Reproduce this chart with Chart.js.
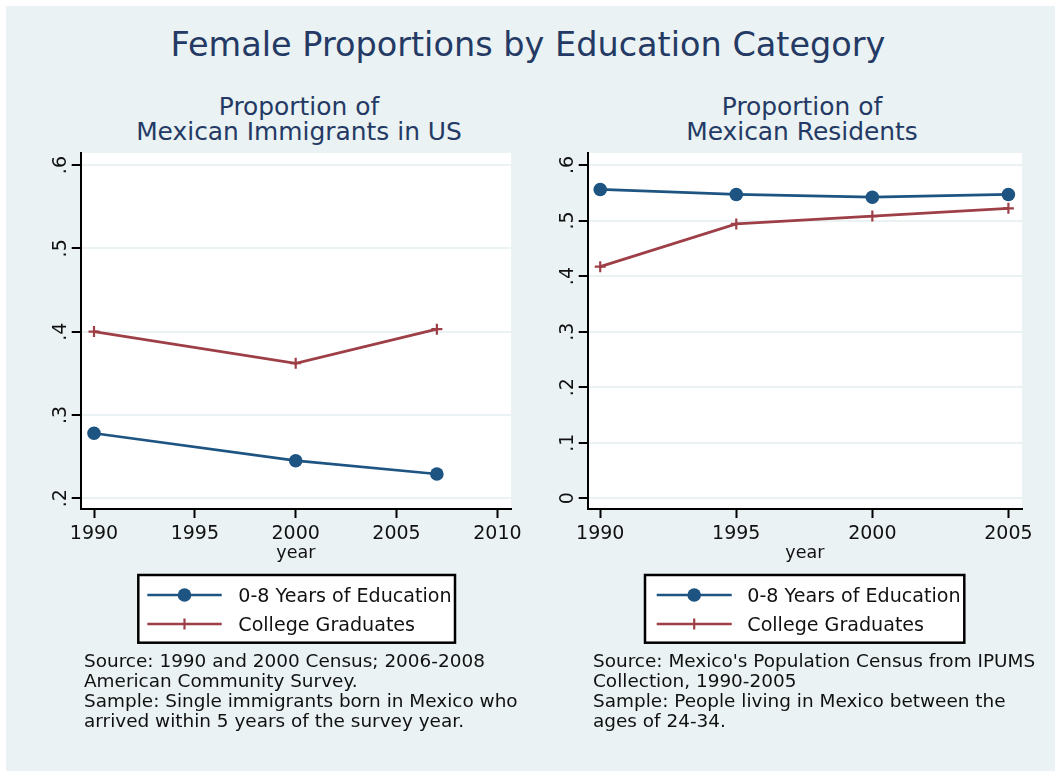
<!DOCTYPE html>
<html>
<head>
<meta charset="utf-8">
<script src="https://cdn.jsdelivr.net/npm/chart.js@4"></script>
<style>
  body { margin: 0; overflow: hidden; background: #fff; }
  #page { position: relative; width: 1055px; height: 771px; background: #fff; font-family: 'DejaVu Sans', sans-serif; }
  #bg { position: absolute; left: 6px; top: 6px; right: 0; bottom: 0; background: #eaf2f3; }
  .title { position: absolute; left: 0; width: 1056px; top: 28px; text-align: center; font-size: 33.5px; line-height: 1; color: #243a64; white-space: nowrap; }
  .sub { position: absolute; top: 93.5px; text-align: center; font-size: 24.9px; line-height: 25.7px; color: #243a64; white-space: nowrap; }
  .note { position: absolute; top: 650.5px; font-size: 18.45px; line-height: 20px; color: #111; white-space: nowrap; }
  canvas { position: absolute; }
</style>
</head>
<body>
<div id="page">
  <div id="bg"></div>
  <div class="title">Female Proportions by Education Category</div>
  <div class="sub" style="left:97px;width:404px">Proportion of<br>Mexican Immigrants in US</div>
  <div class="sub" style="left:600px;width:404px">Proportion of<br>Mexican Residents</div>
  <canvas id="usChart" width="527" height="520" style="left:0;top:140px"></canvas>
  <canvas id="mxChart" width="528" height="520" style="left:527px;top:140px"></canvas>
  <div class="note" style="left:84px">Source: 1990 and 2000 Census; 2006-2008<br>American Community Survey.<br>Sample: Single immigrants born in Mexico who<br>arrived within 5 years of the survey year.</div>
  <div class="note" style="left:593px">Source: Mexico's Population Census from IPUMS<br>Collection, 1990-2005<br>Sample: People living in Mexico between the<br>ages of 24-34.</div>
</div>
<script>
// values
const seriesLabels = ['0-8 Years of Education', 'College Graduates'];

const usYears = [1990, 2000, 2007];
const usLowEdu = [0.278, 0.245, 0.229];
const usCollege = [0.400, 0.362, 0.403];
const usXTicks = [1990, 1995, 2000, 2005, 2010];
const usYTicks = [0.2, 0.3, 0.4, 0.5, 0.6];

const mxYears = [1990, 1995, 2000, 2005];
const mxLowEdu = [0.556, 0.547, 0.542, 0.547];
const mxCollege = [0.417, 0.494, 0.508, 0.522];
const mxXTicks = [1990, 1995, 2000, 2005];
const mxYTicks = [0, 0.1, 0.2, 0.3, 0.4, 0.5, 0.6];

const NAVY = '#1d5482';
const MAROON = '#9e3f47';

Chart.defaults.font.family = "'DejaVu Sans', sans-serif";
Chart.defaults.color = '#111';

const fmtY = (v) => v === 0 ? '0' : Number(v).toFixed(1).replace(/^0/, '');
const toPoints = (xs, ys) => xs.map((x, i) => ({x: x, y: ys[i]}));

const plotBg = {
  id: 'plotBg',
  beforeDraw(chart) {
    const a = chart.chartArea;
    chart.ctx.save();
    chart.ctx.fillStyle = '#fff';
    chart.ctx.fillRect(a.left, a.top, a.right - a.left, a.bottom - a.top);
    chart.ctx.restore();
  }
};

// stata style vertical y labels
const yLabels = {
  id: 'yLabels',
  afterDraw(chart) {
    const s = chart.scales.y;
    const ctx = chart.ctx;
    ctx.save();
    ctx.fillStyle = '#111';
    ctx.font = "19px 'DejaVu Sans'";
    ctx.textAlign = 'center';
    ctx.textBaseline = 'alphabetic';
    s.ticks.forEach((t) => {
      ctx.save();
      ctx.translate(chart.chartArea.left - 15, s.getPixelForValue(t.value));
      ctx.rotate(-Math.PI / 2);
      ctx.fillText(fmtY(t.value), 0, 0);
      ctx.restore();
    });
    ctx.restore();
  }
};

const legendBox = {
  id: 'legendBox',
  afterDraw(chart, args, o) {
    const ctx = chart.ctx;
    ctx.save();
    ctx.fillStyle = '#fff';
    ctx.fillRect(o.left, o.top, o.right - o.left, o.bottom - o.top);
    ctx.lineWidth = 2.5;
    ctx.strokeStyle = '#000';
    ctx.strokeRect(o.left, o.top, o.right - o.left, o.bottom - o.top);
    chart.data.datasets.forEach((ds, i) => {
      const y = o.rows[i];
      ctx.strokeStyle = ds.borderColor;
      ctx.lineWidth = ds.borderWidth;
      ctx.beginPath();
      ctx.moveTo(o.lineFrom, y);
      ctx.lineTo(o.lineTo, y);
      ctx.stroke();
      ctx.fillStyle = ds.pointBackgroundColor;
      ctx.strokeStyle = ds.pointBorderColor;
      ctx.lineWidth = ds.pointBorderWidth;
      Chart.helpers.drawPoint(ctx, {pointStyle: ds.pointStyle, radius: ds.pointRadius, borderWidth: ds.pointBorderWidth, rotation: 0}, (o.lineFrom + o.lineTo) / 2, y);
      ctx.fillStyle = '#111';
      ctx.font = "19.1px 'DejaVu Sans'";
      ctx.textAlign = 'left';
      ctx.textBaseline = 'alphabetic';
      ctx.fillText(ds.label, o.textX, y + 6.9);
    });
    ctx.restore();
  }
};

function makePanel(id, years, lowEdu, college, xTicks, yTicks, range, pad, legend) {
  return new Chart(document.getElementById(id), {
    type: 'line',
    data: {
      datasets: [{
        label: seriesLabels[0],
        data: toPoints(years, lowEdu),
        borderColor: NAVY,
        borderWidth: 2.7,
        pointStyle: 'circle',
        pointRadius: 6.8,
        pointBackgroundColor: NAVY,
        pointBorderColor: NAVY,
        pointBorderWidth: 0,
        tension: 0
      }, {
        label: seriesLabels[1],
        data: toPoints(years, college),
        borderColor: MAROON,
        borderWidth: 2.7,
        pointStyle: 'cross',
        pointRadius: 5.5,
        pointBackgroundColor: MAROON,
        pointBorderColor: MAROON,
        pointBorderWidth: 2.2,
        tension: 0
      }]
    },
    options: {
      responsive: false,
      animation: false,
      events: [],
      layout: {padding: pad},
      plugins: {
        legend: {display: false},
        tooltip: {enabled: false},
        legendBox: legend
      },
      scales: {
        x: {
          type: 'linear',
          min: range.xMin,
          max: range.xMax,
          afterBuildTicks: (s) => { s.ticks = xTicks.map((v) => ({value: v})); },
          afterFit: (s) => { s.height = 60; },
          ticks: {font: {size: 19}, color: '#111', padding: 5, maxRotation: 0, callback: (v) => String(v)},
          grid: {drawOnChartArea: false, drawTicks: true, tickLength: 9, tickColor: '#000', tickWidth: 2},
          border: {display: true, color: '#000', width: 2},
          title: {display: true, text: 'year', font: {size: 17.5}, color: '#111', padding: {top: 0, bottom: 5}}
        },
        y: {
          min: range.yMin,
          max: range.yMax,
          afterBuildTicks: (s) => { s.ticks = yTicks.map((v) => ({value: v})); },
          afterFit: (s) => { s.width = 60; },
          ticks: {display: false},
          grid: {color: '#eaf2f3', lineWidth: 2, drawTicks: true, tickLength: 9, tickColor: '#000', tickWidth: 2},
          border: {display: true, color: '#000', width: 2}
        }
      }
    },
    plugins: [plotBg, yLabels, legendBox]
  });
}

makePanel('usChart', usYears, usLowEdu, usCollege, usXTicks, usYTicks,
  {xMin: 1989.34, xMax: 2010.68, yMin: 0.187, yMax: 0.6145},
  {left: 20.7, top: 13, right: 14, bottom: 91},
  {left: 138.3, top: 435, right: 455, bottom: 502.7, rows: [455, 484], lineFrom: 147.3, lineTo: 221.7, textX: 238.3});

makePanel('mxChart', mxYears, mxLowEdu, mxCollege, mxXTicks, mxYTicks,
  {xMin: 1989.54, xMax: 2005.5, yMin: -0.0193, yMax: 0.6216},
  {left: 0.7, top: 13, right: 33, bottom: 91},
  {left: 118, top: 435, right: 437.3, bottom: 502.7, rows: [455, 484], lineFrom: 129.7, lineTo: 204.7, textX: 220.3});
</script>
</body>
</html>
